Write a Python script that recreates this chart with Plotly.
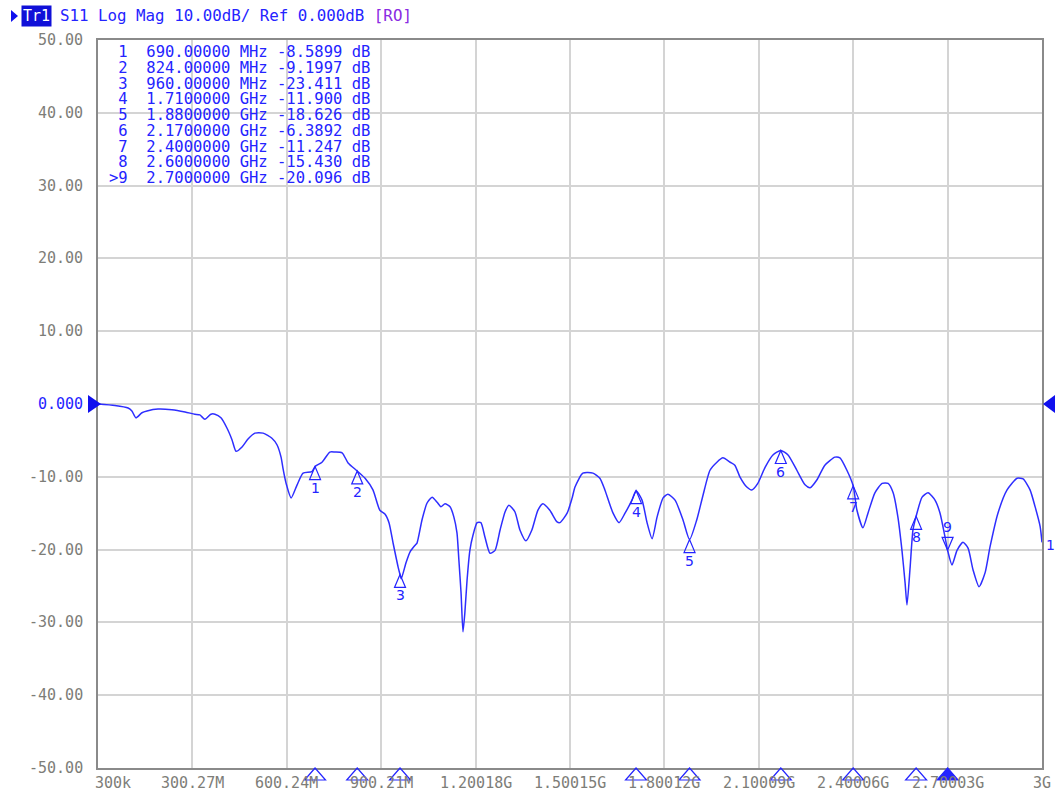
import plotly.graph_objects as go

# ---------------- data ----------------
freq_mhz = [0.3, 54, 96, 108, 121, 140, 156, 191, 235, 277, 308, 324, 340, 359, 372, 391, 410, 426, 439, 458,
            477, 499, 525, 553, 569, 582, 588, 598, 614, 633, 652, 680, 690, 712, 737, 753, 776, 795, 824, 849,
            874, 896, 912, 925, 938, 954, 960, 964, 979, 992, 1008, 1014, 1030, 1046, 1062, 1078, 1090, 1103, 1119,
            1131, 1141, 1147, 1154, 1160, 1166, 1173, 1182, 1192, 1205, 1217, 1230, 1246, 1262, 1278, 1294, 1306,
            1325, 1341, 1360, 1379, 1398, 1414, 1436, 1459, 1468, 1491, 1507, 1516, 1541, 1573, 1595, 1611, 1637,
            1656, 1675, 1697, 1710, 1729, 1745, 1761, 1777, 1796, 1811, 1834, 1859, 1880, 1903, 1923, 1945, 1967,
            1986, 2009, 2024, 2040, 2062, 2078, 2097, 2120, 2145, 2170, 2193, 2221, 2247, 2263, 2285, 2310, 2342,
            2358, 2380, 2400, 2412, 2431, 2447, 2469, 2492, 2511, 2527, 2542, 2555, 2565, 2571, 2581, 2590, 2600,
            2619, 2638, 2660, 2676, 2692, 2700, 2714, 2730, 2749, 2765, 2781, 2800, 2819, 2835, 2860, 2889, 2921,
            2940, 2962, 2978, 2994, 3000]
s11_db = [0.0, -0.2, -0.55, -0.96, -1.9, -1.2, -0.96, -0.7, -0.8, -1.1, -1.4, -1.5, -2.1, -1.4, -1.4, -1.9, -3.3,
          -4.9, -6.5, -5.9, -4.8, -4.0, -4.0, -4.7, -5.6, -7.3, -8.8, -10.9, -12.9, -11.1, -9.5, -9.3, -8.5899,
          -8.0, -6.6, -6.6, -6.7, -8.1, -9.1997, -10.2, -11.8, -14.6, -15.1, -16.3, -19.1, -22.4, -23.411, -24.0,
          -21.8, -20.3, -19.4, -19.1, -15.9, -13.6, -12.8, -13.5, -14.1, -13.7, -14.1, -15.5, -17.7, -21.4, -26.0,
          -31.3, -28.7, -24.2, -20.1, -18.0, -16.3, -16.3, -18.3, -20.5, -20.1, -17.3, -14.8, -13.9, -14.8, -17.3,
          -18.8, -17.3, -14.6, -13.7, -14.6, -16.2, -16.3, -15.0, -12.9, -11.4, -9.5, -9.5, -10.2, -11.8, -15.0,
          -16.3, -15.0, -13.2, -11.9, -13.2, -16.3, -18.5, -15.5, -12.9, -12.4, -13.2, -15.9, -18.626, -15.9,
          -12.5, -9.1, -8.0, -7.4, -8.0, -8.4, -10.0, -11.4, -11.8, -10.9, -8.7, -7.0, -6.3892, -7.0, -9.1, -11.1,
          -11.5, -10.4, -8.4, -7.3, -7.4, -9.1, -11.247, -14.6, -17.0, -15.0, -12.2, -10.9, -10.9, -12.2, -15.5,
          -20.1, -24.6, -27.6, -22.4, -17.3, -15.43, -12.8, -12.2, -13.2, -15.0, -18.3, -20.096, -22.1, -20.1,
          -19.0, -19.8, -22.8, -25.1, -23.2, -19.6, -15.0, -11.8, -10.2, -10.3, -11.8, -14.1, -16.8, -19.0]

marker_ids = [1, 2, 3, 4, 5, 6, 7, 8, 9]
marker_freq_mhz = [690, 824, 960, 1710, 1880, 2170, 2400, 2600, 2700]
marker_db = [-8.5899, -9.1997, -23.411, -11.900, -18.626, -6.3892, -11.247, -15.430, -20.096]
marker_table = [
    " 1  690.00000 MHz -8.5899 dB",
    " 2  824.00000 MHz -9.1997 dB",
    " 3  960.00000 MHz -23.411 dB",
    " 4  1.7100000 GHz -11.900 dB",
    " 5  1.8800000 GHz -18.626 dB",
    " 6  2.1700000 GHz -6.3892 dB",
    " 7  2.4000000 GHz -11.247 dB",
    " 8  2.6000000 GHz -15.430 dB",
    ">9  2.7000000 GHz -20.096 dB",
]
x_tick_vals = [0.3 + i * 299.97 for i in range(11)]
x_tick_text = ["300k", "300.27M", "600.24M", "900.21M", "1.20018G", "1.50015G",
               "1.80012G", "2.10009G", "2.40006G", "2.70003G", "3G"]
y_tick_vals = [50, 40, 30, 20, 10, 0, -10, -20, -30, -40, -50]
y_tick_text = ["50.00", "40.00", "30.00", "20.00", "10.00", "0.000",
               "-10.00", "-20.00", "-30.00", "-40.00", "-50.00"]

# ---------------- layout geometry (page pixels) ----------------
W, H = 1057, 794
L, R, T, B = 98, 1042, 40, 768   # plot area in page pixels
PW, PH = R - L, B - T
XMIN, XMAX = 0.3, 3000.0
YMIN, YMAX = -50, 50
px_per_mhz = PW / (XMAX - XMIN)
px_per_db = PH / (YMAX - YMIN)

def pxx(px):
    return (px - L) / PW

def pxy(py):
    return (B - py) / PH

BLUE = "#2424ff"
TRACE = "#2e2eff"
GRAY = "#7d7d78"
MONO = "DejaVu Sans Mono"

fig = go.Figure()
fig.add_trace(go.Scatter(x=freq_mhz, y=s11_db, mode="lines",
                         line=dict(color=TRACE, width=1.5, shape="spline", smoothing=0.6),
                         hoverinfo="skip", showlegend=False))

shapes = []
annotations = []

# markers on trace
hw = 5.5 / px_per_mhz
th = 13 / px_per_db
bhw = 10.5 / px_per_mhz
bh = 12 / PH
for mid, f, d in zip(marker_ids, marker_freq_mhz, marker_db):
    if mid == 9:
        path = f"M {f},{d} L {f-hw},{d+th} L {f+hw},{d+th} Z"
        ys = 23
    else:
        path = f"M {f},{d} L {f-hw},{d-th} L {f+hw},{d-th} Z"
        ys = -21
    shapes.append(dict(type="path", xref="x", yref="y", path=path,
                       line=dict(color=BLUE, width=1.2), fillcolor="rgba(0,0,0,0)"))
    annotations.append(dict(x=f, y=d, xref="x", yref="y", text=str(mid), showarrow=False,
                            yshift=ys, font=dict(family="DejaVu Sans", size=14, color=BLUE)))
    shapes.append(dict(type="path", xref="x", yref="paper",
                       path=f"M {f},0 L {f-bhw},{-bh} L {f+bhw},{-bh} Z",
                       line=dict(color=BLUE, width=1.2),
                       fillcolor=BLUE if mid == 9 else "rgba(0,0,0,0)"))

# reference level triangles
shapes.append(dict(type="path", xref="paper", yref="paper",
                   path=f"M {pxx(101)},{pxy(404)} L {pxx(88)},{pxy(395)} L {pxx(88)},{pxy(413)} Z",
                   line=dict(color="#1010ee", width=0), fillcolor="#1010ee"))
shapes.append(dict(type="path", xref="paper", yref="paper",
                   path=f"M {pxx(1043)},{pxy(404)} L {pxx(1055)},{pxy(395)} L {pxx(1055)},{pxy(413)} Z",
                   line=dict(color="#1010ee", width=0), fillcolor="#1010ee"))
# title triangle
shapes.append(dict(type="path", xref="paper", yref="paper",
                   path=f"M {pxx(18)},{pxy(16)} L {pxx(11)},{pxy(10)} L {pxx(11)},{pxy(22)} Z",
                   line=dict(color="#1010ee", width=0), fillcolor="#1010ee"))

# title
annotations.append(dict(x=pxx(21), y=pxy(16), xref="paper", yref="paper", xanchor="left", yanchor="middle",
                        text="Tr1", showarrow=False, bgcolor="#1010d8", borderpad=1,
                        font=dict(family=MONO, size=15, color="white")))
annotations.append(dict(x=pxx(58), y=pxy(16), xref="paper", yref="paper", xanchor="left", yanchor="middle",
                        text="S11 Log Mag 10.00dB/ Ref 0.000dB <span style='color:#8a2be2'>[RO]</span>",
                        showarrow=False, font=dict(family=MONO, size=15.8, color=BLUE)))

# marker table
for i, line in enumerate(marker_table):
    annotations.append(dict(x=pxx(107), y=pxy(52 + i * 15.75), xref="paper", yref="paper",
                            xanchor="left", yanchor="middle", text=line.replace(" ", "\u00a0"),
                            showarrow=False, font=dict(family=MONO, size=15.5, color=BLUE)))

# y tick labels
for v, t in zip(y_tick_vals, y_tick_text):
    annotations.append(dict(x=pxx(85), y=v, xref="paper", yref="y", xanchor="right", yanchor="middle",
                            text=t, showarrow=False,
                            font=dict(family=MONO, size=15, color=BLUE if v == 0 else GRAY)))
# x tick labels (paper x so the edge labels are never dropped)
for i, (v, t) in enumerate(zip(x_tick_vals, x_tick_text)):
    xp = (v - XMIN) / (XMAX - XMIN)
    annotations.append(dict(x=xp, y=pxy(783), xref="paper", yref="paper",
                            xanchor="left" if i == 0 else "center", yanchor="middle",
                            xshift=-5 if i == 0 else 0,
                            text=t, showarrow=False, font=dict(family=MONO, size=15, color=GRAY)))

# trace end label
annotations.append(dict(x=pxx(1044), y=pxy(545), xref="paper", yref="paper", xanchor="left",
                        yanchor="middle", text="1", showarrow=False,
                        font=dict(family="DejaVu Sans", size=14, color=BLUE)))

fig.update_layout(
    width=W, height=H,
    margin=dict(l=L, r=W - R, t=T, b=H - B),
    paper_bgcolor="white", plot_bgcolor="white",
    showlegend=False,
    shapes=shapes, annotations=annotations,
    xaxis=dict(range=[XMIN, XMAX], tickvals=x_tick_vals, showticklabels=False, ticks="",
               showgrid=True, gridcolor="#d4d4d4", gridwidth=1.5, zeroline=False,
               showline=True, linecolor="#8a8a8a", linewidth=1.5, mirror=True),
    yaxis=dict(range=[YMIN, YMAX], tickvals=y_tick_vals, showticklabels=False, ticks="",
               showgrid=True, gridcolor="#d4d4d4", gridwidth=1.5, zeroline=False,
               showline=True, linecolor="#8a8a8a", linewidth=1.5, mirror=True),
)

fig.write_html("out.html", config={"displayModeBar": False},
               post_script="document.body.style.margin='0px';document.body.style.overflow='hidden';")
